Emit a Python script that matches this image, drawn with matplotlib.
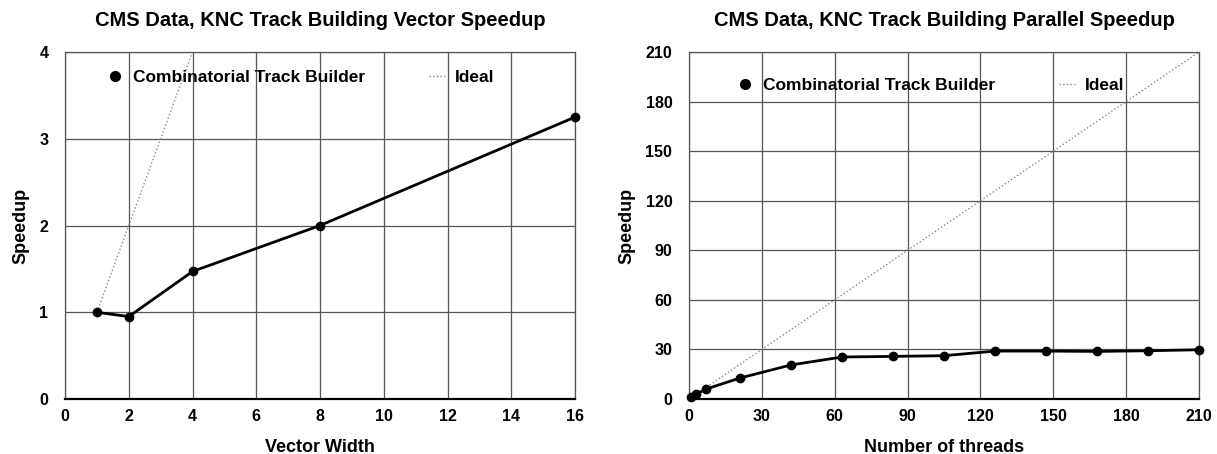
import matplotlib.pyplot as plt
from matplotlib.lines import Line2D

plt.rcParams['font.family'] = ['Liberation Sans', 'DejaVu Sans']
plt.rcParams['font.weight'] = 'bold'

# vector speedup
vec_width = [1, 2, 4, 8, 16]
vec_speedup = [1.0, 0.95, 1.47, 2.0, 3.25]
vec_ideal_x = [1, 2, 4, 8, 16]
vec_ideal_y = [1, 2, 4, 8, 16]

# parallel speedup
threads = [1, 3, 7, 21, 42, 63, 84, 105, 126, 147, 168, 189, 210]
par_speedup = [1.0, 2.9, 6.0, 12.7, 20.6, 25.4, 25.8, 26.2, 29.0, 29.0, 28.8, 29.2, 29.8]
par_ideal = threads

fig = plt.figure(figsize=(12.17, 4.54), dpi=100)
ax1 = fig.add_axes([65/1217, 55/454, 510/1217, 347/454])
ax2 = fig.add_axes([689/1217, 55/454, 510/1217, 347/454])


def style(ax, xt, yt, title, xlabel):
    ax.set_xlim(xt[0], xt[-1])
    ax.set_ylim(yt[0], yt[-1])
    ax.set_xticks(xt)
    ax.set_yticks(yt)
    ax.grid(True, color='#555555', linewidth=0.9)
    ax.set_axisbelow(True)
    for s in ['top', 'right', 'left']:
        ax.spines[s].set_color('#555555')
        ax.spines[s].set_linewidth(0.9)
    ax.spines['bottom'].set_linewidth(1.6)
    ax.tick_params(axis='x', length=0, labelsize=11.5, pad=7)
    ax.tick_params(axis='y', length=0, labelsize=11.5, pad=12)
    ax.set_title(title, fontsize=14.5, fontweight='bold', pad=19)
    ax.set_xlabel(xlabel, fontsize=13, fontweight='bold', labelpad=11)
    ax.set_ylabel('Speedup', fontsize=13, fontweight='bold', labelpad=7)


handles = [Line2D([], [], color='black', marker='o', linestyle='none', markersize=7),
           Line2D([], [], color='#888888', linestyle=':', linewidth=1)]
labels = ['Combinatorial Track Builder', 'Ideal']

ax1.plot(vec_ideal_x, vec_ideal_y, color='#888888', linestyle=':', linewidth=1, clip_on=True)
ax1.plot(vec_width, vec_speedup, color='black', linewidth=2, marker='o', markersize=6,
         clip_on=False, zorder=3)
style(ax1, [0, 2, 4, 6, 8, 10, 12, 14, 16], [0, 1, 2, 3, 4],
      'CMS Data, KNC Track Building Vector Speedup', 'Vector Width')
ax1.legend(handles, labels, loc='upper left', bbox_to_anchor=(0.051, 0.994), ncol=2,
           frameon=False, fontsize=12.5, handlelength=1.0, handletextpad=0.5,
           columnspacing=3.7)

ax2.plot(threads, par_ideal, color='#888888', linestyle=':', linewidth=1)
ax2.plot(threads, par_speedup, color='black', linewidth=2, marker='o', markersize=6,
         clip_on=False, zorder=3)
style(ax2, [0, 30, 60, 90, 120, 150, 180, 210], [0, 30, 60, 90, 120, 150, 180, 210],
      'CMS Data, KNC Track Building Parallel Speedup', 'Number of threads')
ax2.legend(handles, labels, loc='upper left', bbox_to_anchor=(0.063, 0.97), ncol=2,
           frameon=False, fontsize=12.5, handlelength=1.0, handletextpad=0.5,
           columnspacing=3.7)

fig.savefig('out.png', dpi=100)
